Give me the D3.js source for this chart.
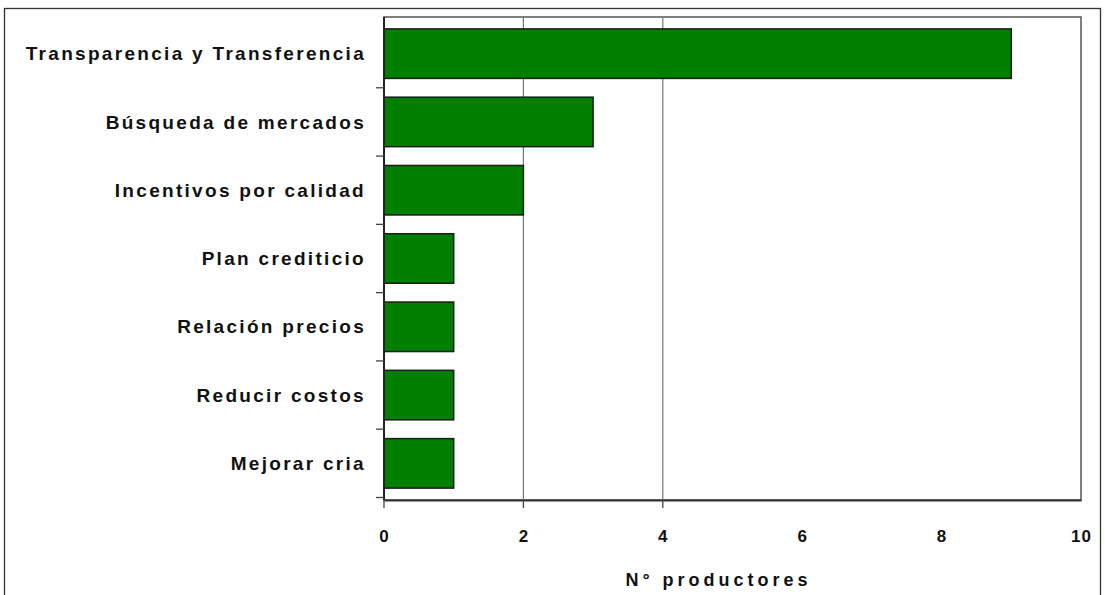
<!DOCTYPE html>
<html>
<head>
<meta charset="utf-8">
<script src="https://cdn.jsdelivr.net/npm/d3@7"></script>
<style>
    body { margin: 0; background: #fff; }
    text { font-family: "Liberation Sans", Arial, sans-serif; font-weight: bold; fill: #111; }
</style>
</head>
<body>
<div id="chart"></div>
<script>
// categories, top to bottom
var categories = ["Transparencia y Transferencia", "Búsqueda de mercados", "Incentivos por calidad",
    "Plan crediticio", "Relación precios", "Reducir costos", "Mejorar cria"];
var productores = [9, 3, 2, 1, 1, 1, 1];
var xTicks = [0, 2, 4, 6, 8, 10];
// only these show grid lines / tick marks in the original
var gridValues = [2, 4];
var tickMarkValues = [0, 2, 4];
var xTitle = "N° productores";

var margin = { top: 17, right: 24, bottom: 95, left: 384 };
var width = 1105 - margin.left - margin.right,
    height = 595 - margin.top - margin.bottom;

var svg = d3.select("#chart").append("svg")
    .attr("width", 1105)
    .attr("height", 595);

// outer frame
svg.append("rect")
    .attr("x", 4.5).attr("y", 8.5)
    .attr("width", 1096).attr("height", 600)
    .attr("fill", "none")
    .attr("stroke", "#333")
    .attr("stroke-width", 1.3);

var g = svg.append("g")
    .attr("transform", "translate(" + margin.left + "," + margin.top + ")");

var x = d3.scaleLinear().domain([0, 10]).range([0, width]);
var y = d3.scaleBand().domain(categories).range([0, height])
    .paddingInner(0.275).paddingOuter(0.174);

// plot frame
g.append("rect")
    .attr("width", width).attr("height", height)
    .attr("fill", "none")
    .attr("stroke", "#555")
    .attr("stroke-width", 1.5);

// grid lines
g.selectAll(".grid").data(gridValues).enter()
    .append("line")
    .attr("class", "grid")
    .attr("x1", function(d) { return x(d); })
    .attr("x2", function(d) { return x(d); })
    .attr("y1", 0).attr("y2", height)
    .attr("stroke", "#777")
    .attr("stroke-width", 1.2);

// bars
g.selectAll(".bar").data(productores).enter()
    .append("rect")
    .attr("class", "bar")
    .attr("x", x(0))
    .attr("y", function(d, i) { return y(categories[i]); })
    .attr("width", function(d) { return x(d) - x(0); })
    .attr("height", y.bandwidth())
    .attr("fill", "#007f00")
    .attr("stroke", "#1c1c1c")
    .attr("stroke-width", 1.5);

// x axis
var xAxis = d3.axisBottom(x).tickValues(xTicks).tickSize(0).tickPadding(37);
var xg = g.append("g")
    .attr("transform", "translate(0," + height + ")")
    .call(xAxis);
xg.select(".domain").attr("stroke", "#333").attr("stroke-width", 2);
xg.selectAll("text")
    .style("font-size", "17px")
    .attr("dy", "0.32em")
    .attr("letter-spacing", "1px");

g.selectAll(".xtick").data(tickMarkValues).enter()
    .append("line")
    .attr("class", "xtick")
    .attr("x1", function(d) { return x(d); })
    .attr("x2", function(d) { return x(d); })
    .attr("y1", height).attr("y2", height + 8)
    .attr("stroke", "#444")
    .attr("stroke-width", 1.3);

// y axis: line + tick marks between categories
g.append("line")
    .attr("x1", 0).attr("x2", 0)
    .attr("y1", 0).attr("y2", height)
    .attr("stroke", "#222")
    .attr("stroke-width", 2);

var step = y.step();
g.selectAll(".ytick").data(categories).enter()
    .append("line")
    .attr("class", "ytick")
    .attr("x1", -8).attr("x2", 0)
    .attr("y1", function(d) { return y(d) + y.bandwidth() + step * y.paddingInner() / 2; })
    .attr("y2", function(d) { return y(d) + y.bandwidth() + step * y.paddingInner() / 2; })
    .attr("stroke", "#444")
    .attr("stroke-width", 1.3);

g.selectAll(".ylabel").data(categories).enter()
    .append("text")
    .attr("class", "ylabel")
    .attr("x", -18)
    .attr("y", function(d) { return y(d) + y.bandwidth() / 2; })
    .attr("dy", "0.35em")
    .attr("text-anchor", "end")
    .attr("letter-spacing", "2.3px")
    .style("font-size", "19px")
    .text(function(d) { return d; });

// axis title (sits a bit left of centre in the original)
g.append("text")
    .attr("x", width / 2 - 14)
    .attr("y", height + 86)
    .attr("text-anchor", "middle")
    .attr("letter-spacing", "4px")
    .style("font-size", "18px")
    .text(xTitle);
</script>
</body>
</html>
